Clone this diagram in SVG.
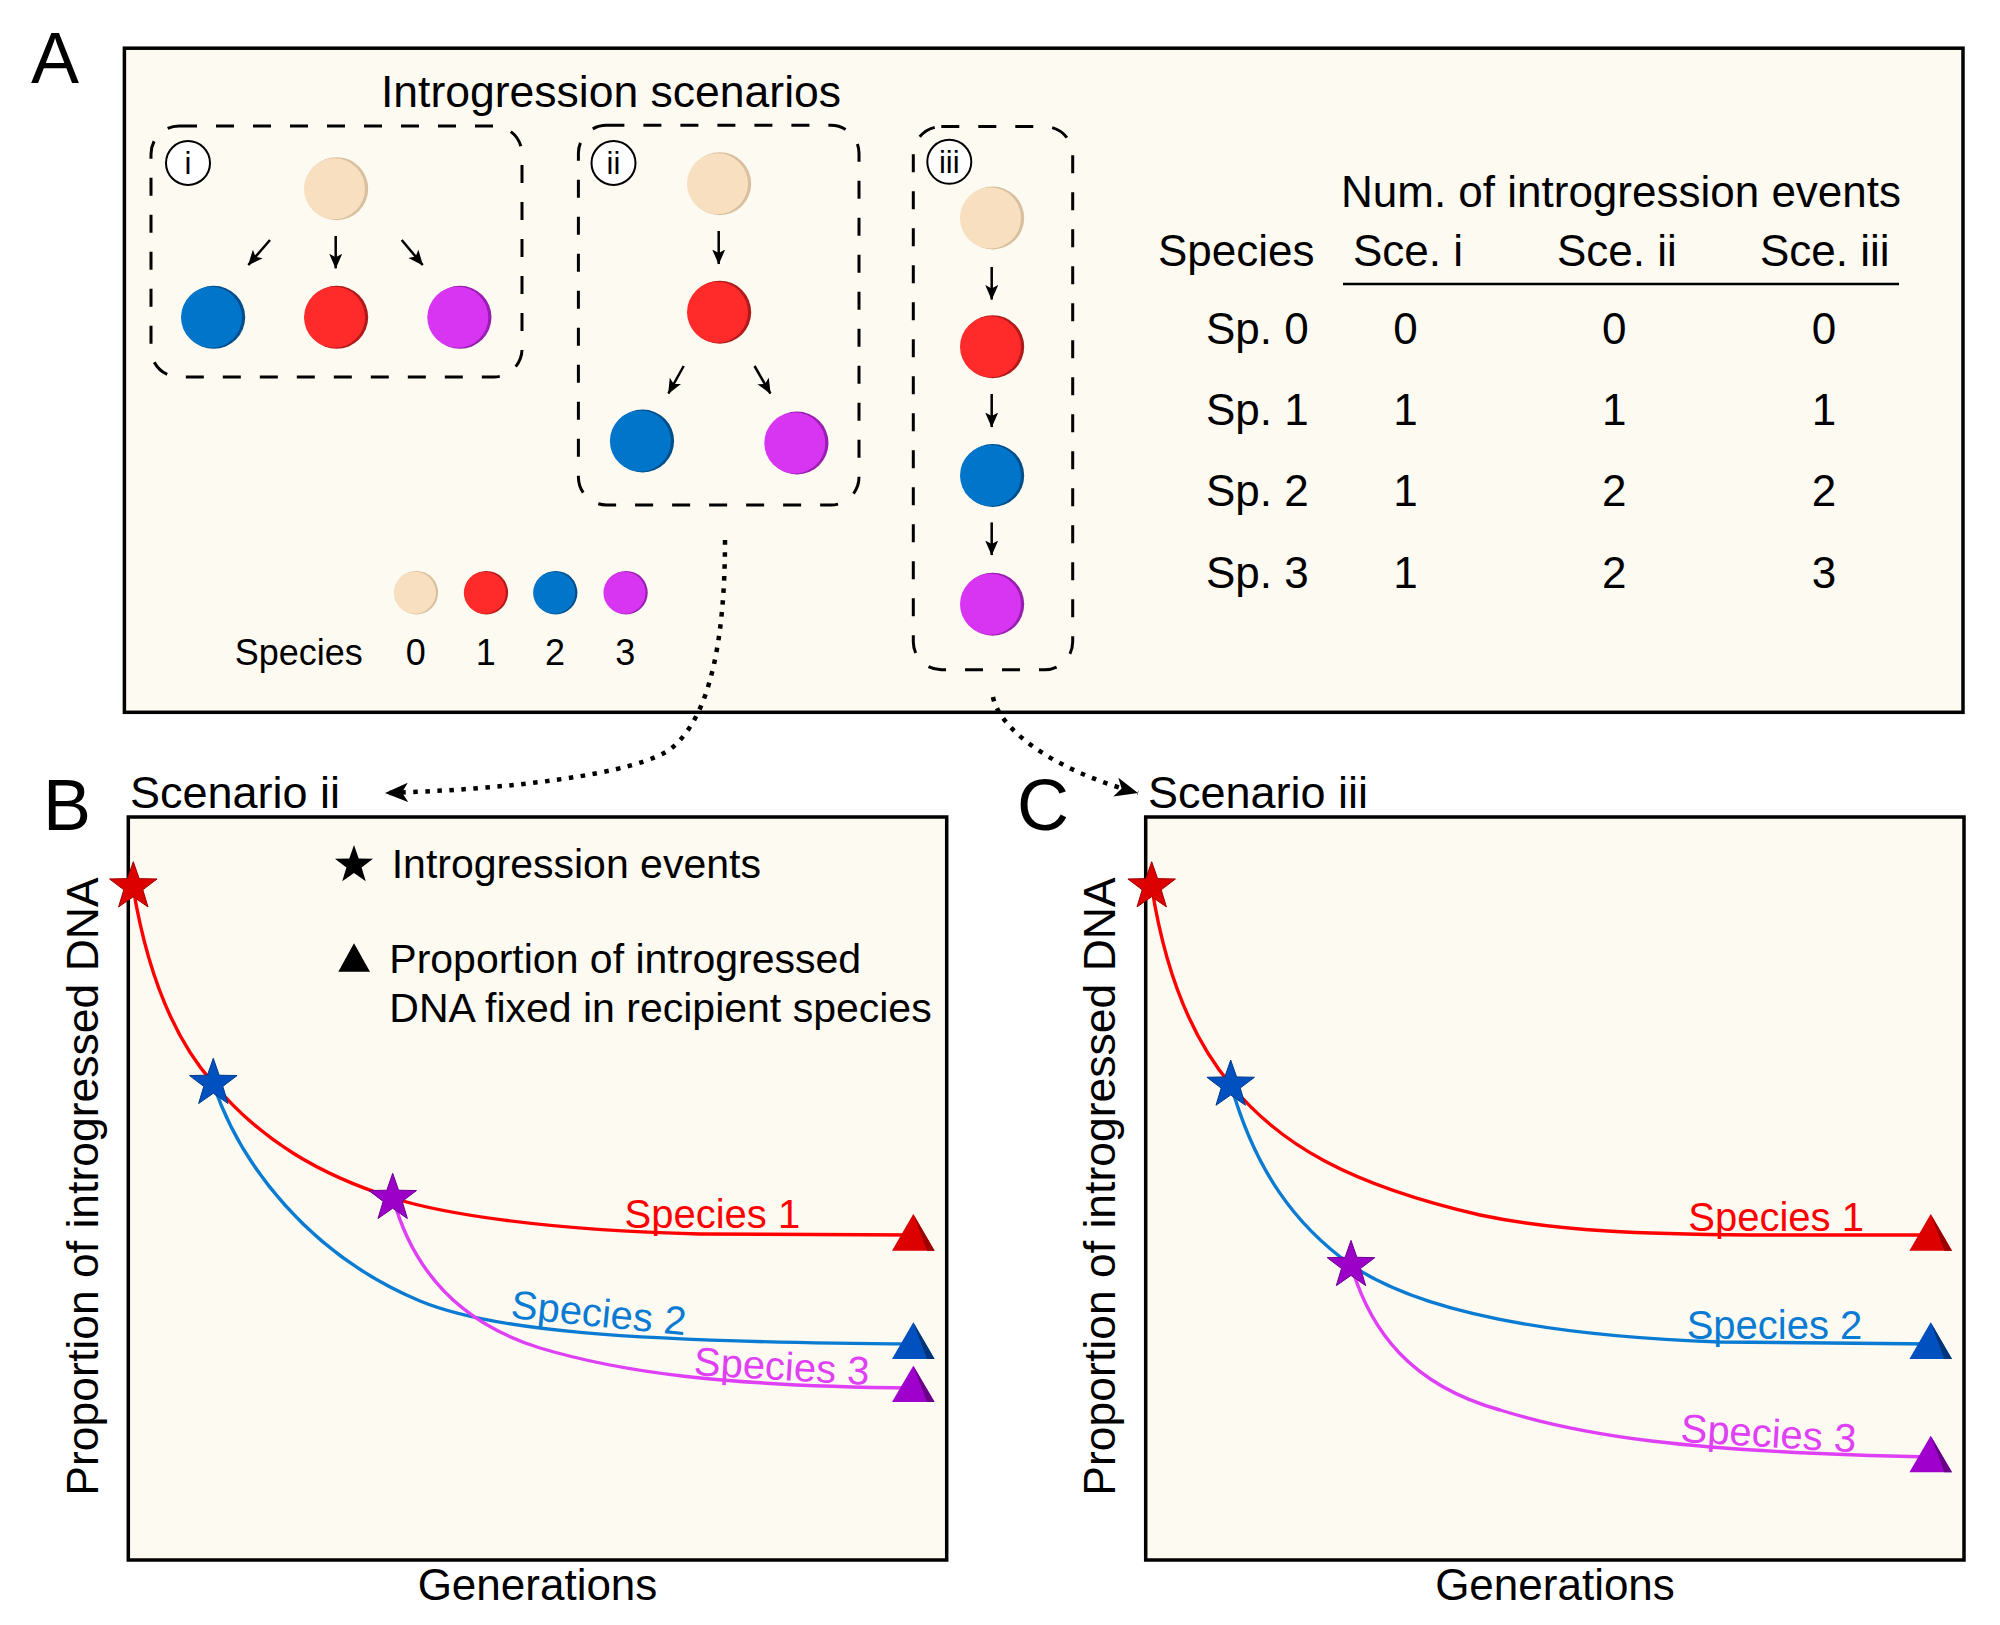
<svg xmlns="http://www.w3.org/2000/svg" width="2000" height="1625" viewBox="0 0 2000 1625">
<defs>
<style>
text{font-family:"Liberation Sans",Arial,sans-serif;fill:#000}
.panel{fill:#fdfaf2;stroke:#000;stroke-width:3.5}
.dbox{fill:none;stroke:#000;stroke-width:3;stroke-dasharray:18 19}
.lab{fill:#fff;stroke:#000;stroke-width:2}
.arr{stroke:#000;stroke-width:2.5;fill:none;marker-end:url(#ah)}
.dot{stroke:#000;stroke-width:4.5;fill:none;stroke-dasharray:4.5 7.5;marker-end:url(#dh)}
.tanS{fill:#d8c09f}.tanM{fill:#f7dfbf}
.redS{fill:#b01a1a}.redM{fill:#ff2a2a}
.bluS{fill:#004f8c}.bluM{fill:#0075c9}
.magS{fill:#991fb0}.magM{fill:#d835f2}
.cr{stroke:#ff0000;stroke-width:3.4;fill:none}
.cb{stroke:#0a7bd2;stroke-width:3.4;fill:none}
.cm{stroke:#e040f5;stroke-width:3.4;fill:none}
.sr{fill:#dd0000;stroke:#a00000;stroke-width:1}
.sb{fill:#0050c0;stroke:#003a8a;stroke-width:1}
.sp{fill:#9c00c8;stroke:#6e0090;stroke-width:1}
.big{font-size:72px}
.t44{font-size:44px}
.t41{font-size:41px}
.t40{font-size:40px}
.t36{font-size:36px}
</style>
<marker id="ah" markerUnits="userSpaceOnUse" markerWidth="16" markerHeight="14" refX="14.5" refY="6.5" orient="auto">
<path d="M0,0 L15,6.5 L0,13 L3.5,6.5 z" fill="#000"/>
</marker>
<marker id="dh" markerUnits="userSpaceOnUse" markerWidth="24" markerHeight="20" refX="23" refY="9.7" orient="auto">
<path d="M0,0 L23,9.7 L0,19.4 L6,9.7 z" fill="#000"/>
</marker>
<path id="star" d="M0,-25 L5.88,-8.09 L23.78,-7.73 L9.51,3.09 L14.69,20.23 L0,10 L-14.69,20.23 L-9.51,3.09 L-23.78,-7.73 L-5.88,-8.09 Z"/>
<g id="dTan"><circle cx="1" cy="0" r="31.5" class="tanS"/><circle cx="-1.2" cy="0" r="30.5" class="tanM"/></g>
<g id="dRed"><circle cx="1" cy="0" r="31.5" class="redS"/><circle cx="-1.2" cy="0" r="30.5" class="redM"/></g>
<g id="dBlu"><circle cx="1" cy="0" r="31.5" class="bluS"/><circle cx="-1.2" cy="0" r="30.5" class="bluM"/></g>
<g id="dMag"><circle cx="1" cy="0" r="31.5" class="magS"/><circle cx="-1.2" cy="0" r="30.5" class="magM"/></g>
</defs>

<rect width="2000" height="1625" fill="#fff"/>

<!-- Panel A -->
<g id="panelA">
<text x="31" y="83" class="big">A</text>
<rect x="124.4" y="48.2" width="1838.6" height="664.1" class="panel"/>
<text x="611" y="106.5" font-size="44.5" text-anchor="middle">Introgression scenarios</text>
</g>

<g id="scenario-i">
<rect x="151" y="126" width="371" height="251" rx="28" class="dbox"/>
<circle cx="188" cy="163" r="22" class="lab"/>
<text x="188" y="174" font-size="31" text-anchor="middle">i</text>
<use href="#dTan" x="335.7" y="188.7"/>
<use href="#dBlu" x="212.7" y="317.3"/>
<use href="#dRed" x="335.7" y="317.3"/>
<use href="#dMag" x="459" y="317.3"/>
</g>

<g id="scenario-ii">
<rect x="578.4" y="125.3" width="280.6" height="379.7" rx="28" class="dbox"/>
<circle cx="613.5" cy="163" r="22" class="lab"/>
<text x="613.5" y="174" font-size="31" text-anchor="middle">ii</text>
<use href="#dTan" x="718.7" y="183.7"/>
<use href="#dRed" x="718.7" y="312.2"/>
<use href="#dBlu" x="641.6" y="441"/>
<use href="#dMag" x="796" y="443"/>
</g>

<g id="scenario-iii">
<rect x="913.3" y="126.6" width="159.4" height="543.1" rx="28" class="dbox"/>
<circle cx="949.3" cy="161.8" r="22" class="lab"/>
<text x="949.3" y="172.8" font-size="31" text-anchor="middle">iii</text>
<use href="#dTan" x="991.7" y="218"/>
<use href="#dRed" x="991.7" y="346.7"/>
<use href="#dBlu" x="991.7" y="475.5"/>
<use href="#dMag" x="991.7" y="604.2"/>
</g>

<g id="legendA">
<g transform="translate(415.7,592.7) scale(0.69)"><use href="#dTan"/></g>
<g transform="translate(485.7,592.7) scale(0.69)"><use href="#dRed"/></g>
<g transform="translate(555,592.7) scale(0.69)"><use href="#dBlu"/></g>
<g transform="translate(625.3,592.7) scale(0.69)"><use href="#dMag"/></g>
<text x="234.7" y="664.5" class="t36">Species</text>
<text x="415.7" y="665" class="t36" text-anchor="middle">0</text>
<text x="485.7" y="665" class="t36" text-anchor="middle">1</text>
<text x="555" y="665" class="t36" text-anchor="middle">2</text>
<text x="625.3" y="665" class="t36" text-anchor="middle">3</text>
</g>

<g id="table">
<text x="1341" y="206.6" class="t44">Num. of introgression events</text>
<text x="1158" y="266.3" class="t44">Species</text>
<text x="1353" y="266.3" class="t44">Sce. i</text>
<text x="1557" y="266.3" class="t44">Sce. ii</text>
<text x="1760" y="266.3" class="t44">Sce. iii</text>
<line x1="1343" y1="284" x2="1899" y2="284" stroke="#000" stroke-width="2.5"/>
<text x="1206" y="344" class="t44">Sp. 0</text>
<text x="1206" y="425" class="t44">Sp. 1</text>
<text x="1206" y="506" class="t44">Sp. 2</text>
<text x="1206" y="588" class="t44">Sp. 3</text>
<g class="t44" text-anchor="middle">
<text x="1405.6" y="344">0</text><text x="1614.2" y="344">0</text><text x="1824" y="344">0</text>
<text x="1405.6" y="425">1</text><text x="1614.2" y="425">1</text><text x="1824" y="425">1</text>
<text x="1405.6" y="506">1</text><text x="1614.2" y="506">2</text><text x="1824" y="506">2</text>
<text x="1405.6" y="588">1</text><text x="1614.2" y="588">2</text><text x="1824" y="588">3</text>
</g>
</g>

<!-- Connectors -->
<g id="connectors">
<line x1="270" y1="240" x2="248.3" y2="265" class="arr"/>
<line x1="335.7" y1="236" x2="335.7" y2="268.3" class="arr"/>
<line x1="401.7" y1="240" x2="422.7" y2="265" class="arr"/>
<line x1="718.7" y1="231" x2="718.7" y2="264" class="arr"/>
<line x1="683.7" y1="366" x2="668.4" y2="393.5" class="arr"/>
<line x1="754.5" y1="366" x2="770.4" y2="393.5" class="arr"/>
<line x1="991.7" y1="267" x2="991.7" y2="299.5" class="arr"/>
<line x1="991.7" y1="394" x2="991.7" y2="427" class="arr"/>
<line x1="991.7" y1="522.4" x2="991.7" y2="555" class="arr"/>
<path d="M725,540 C725,640 710,715 673,747 C640,775 500,790 385,793" class="dot"/>
<path d="M993,697 C998,725 1045,768 1138,793" class="dot"/>
</g>

<!-- Panel B -->
<g id="panelB">
<text x="43" y="830" class="big">B</text>
<text x="130" y="808" font-size="45">Scenario ii</text>
<rect x="128.3" y="817" width="818.4" height="743" class="panel"/>
<text transform="translate(98,1186.5) rotate(-90)" font-size="44.5" text-anchor="middle">Proportion of introgressed DNA</text>
<text x="537.5" y="1600" class="t44" text-anchor="middle">Generations</text>
<g transform="translate(354,865) scale(0.8)"><use href="#star" fill="#000"/></g>
<polygon points="354,943.3 338.3,971.7 370,971.7" fill="#000"/>
<text x="391.7" y="878.3" class="t41">Introgression events</text>
<text x="389.3" y="972.7" class="t41">Proportion of introgressed</text>
<text x="389.3" y="1021.7" class="t41">DNA fixed in recipient species</text>
<path class="cr" d="M133,887 C148,978 175,1040 213,1083 C260,1140 320,1175 393,1198 C440,1213 540,1230 700,1234 L913,1235"/>
<path class="cb" d="M213,1083 C240,1165 310,1255 420,1301 C490,1330 620,1342 913,1344"/>
<path class="cm" d="M393,1198 C410,1260 450,1320 540,1348 C620,1372 720,1386 913,1388"/>
<text x="624.5" y="1228" class="t40" style="fill:#ff0000">Species 1</text>
<text transform="translate(510,1318) rotate(5.6)" class="t40" style="fill:#0a7bd2">Species 2</text>
<text transform="translate(693.3,1375) rotate(3.3)" class="t40" style="fill:#e040f5">Species 3</text>
<use href="#star" x="133.3" y="886.7" class="sr"/>
<use href="#star" x="213.3" y="1083.3" class="sb"/>
<use href="#star" x="392.7" y="1198.3" class="sp"/>
<polygon points="913.3,1214 892,1250.7 934.6,1250.7" fill="#dd0000"/>
<polygon points="913.3,1214 934.6,1250.7 927,1250.7" fill="#9a0000"/>
<polygon points="913.3,1322.3 892,1359 934.6,1359" fill="#0050c0"/>
<polygon points="913.3,1322.3 934.6,1359 927,1359" fill="#003478"/>
<polygon points="913.3,1365.7 892,1402 934.6,1402" fill="#a000cc"/>
<polygon points="913.3,1365.7 934.6,1402 927,1402" fill="#6a0088"/>
</g>

<!-- Panel C -->
<g id="panelC">
<text x="1017" y="830" class="big">C</text>
<text x="1148" y="808" font-size="45">Scenario iii</text>
<rect x="1145.7" y="817" width="818.3" height="743" class="panel"/>
<text transform="translate(1115,1186.5) rotate(-90)" font-size="44.5" text-anchor="middle">Proportion of introgressed DNA</text>
<text x="1555" y="1600" class="t44" text-anchor="middle">Generations</text>
<path class="cr" d="M1151.7,886.7 C1166,978 1193,1040 1231,1085 C1280,1145 1350,1185 1480,1215 C1560,1232 1650,1234 1750,1235 L1931,1235"/>
<path class="cb" d="M1231,1085 C1255,1170 1295,1225 1351,1265 C1410,1305 1520,1335 1720,1342 L1931,1344"/>
<path class="cm" d="M1351,1265 C1370,1330 1410,1385 1500,1410 C1580,1435 1680,1452 1931,1457"/>
<text x="1688.3" y="1230.5" class="t40" style="fill:#ff0000">Species 1</text>
<text x="1686.7" y="1338.5" class="t40" style="fill:#0a7bd2">Species 2</text>
<text transform="translate(1680,1441.7) rotate(3.5)" class="t40" style="fill:#e040f5">Species 3</text>
<use href="#star" x="1151.7" y="886.7" class="sr"/>
<use href="#star" x="1230.7" y="1085" class="sb"/>
<use href="#star" x="1351" y="1265.4" class="sp"/>
<polygon points="1930.7,1214 1909.4,1250.7 1952,1250.7" fill="#dd0000"/>
<polygon points="1930.7,1214 1952,1250.7 1944.4,1250.7" fill="#9a0000"/>
<polygon points="1930.7,1322.3 1909.4,1359 1952,1359" fill="#0050c0"/>
<polygon points="1930.7,1322.3 1952,1359 1944.4,1359" fill="#003478"/>
<polygon points="1930.7,1435.7 1909.4,1472.3 1952,1472.3" fill="#a000cc"/>
<polygon points="1930.7,1435.7 1952,1472.3 1944.4,1472.3" fill="#6a0088"/>
</g>
</svg>
